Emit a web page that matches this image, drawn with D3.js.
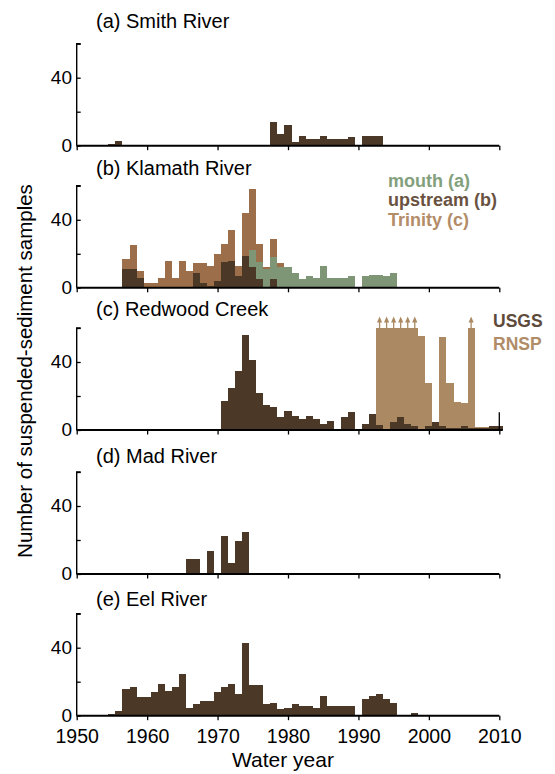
<!DOCTYPE html>
<html><head><meta charset="utf-8">
<script src="https://cdn.jsdelivr.net/npm/d3@7"></script>
<style>
html,body{margin:0;padding:0;background:#fff;}
svg text{font-family:"Liberation Sans",Arial,sans-serif;}
</style></head>
<body>
<svg id="chart" width="555" height="774"></svg>
<script>
// ---------- data ----------
const xTickYears = [1950, 1960, 1970, 1980, 1990, 2000, 2010];
const yTickValues = [0, 20, 40, 60];
const yTickLabels = ["0", "", "40", ""];
const panelTitles = ["(a) Smith River", "(b) Klamath River", "(c) Redwood Creek", "(d) Mad River", "(e) Eel River"];

// (a) Smith River
const smithYears  = [1955, 1956, 1978, 1979, 1980, 1981, 1982, 1983, 1984, 1985, 1986, 1987, 1988, 1989, 1991, 1992, 1993];
const smithCounts = [1, 3, 14, 7, 12, 2, 6, 4, 4, 6, 4, 4, 4, 5, 6, 6, 6];

// (b) Klamath River
const trinityYears  = [1957,1958,1959,1960,1961,1962,1963,1964,1965,1966,1967,1968,1969,1970,1971,1972,1973,1974,1975,1976,1977,1978,1979];
const trinityCounts = [17, 25, 10, 3, 3, 6, 16, 6, 16, 10, 14.5, 14.5, 13, 20, 26, 34, 13, 44, 58, 26, 12, 29, 14.5];
const upstreamYears  = [1957,1958,1959,1967,1968,1969,1970,1971,1972,1973,1974,1975,1976,1978,1979];
const upstreamCounts = [11, 11, 6, 9, 3, 1, 4, 15, 16, 7, 19, 12, 5, 5, 0.5];
const mouthYears  = [1975,1976,1977,1978,1979,1980,1981,1982,1983,1984,1985,1986,1987,1988,1989,1991,1992,1993,1994,1995];
const mouthCounts = [22, 15, 11, 18, 12, 12, 9, 5, 7, 6, 13, 6, 6, 6, 7, 7, 7.5, 7.5, 7, 9];

// (c) Redwood Creek
const usgsYears  = [1955,1956,1971,1972,1973,1974,1975,1976,1977,1978,1979,1980,1981,1982,1983,1984,1985,1986,1987,1988,1989,1990,
                    1991,1992,1993,1994,1995,1996,1997,1998,1999,2000,2001,2002,2003,2004,2005,2006,2007,2008,2009,2010];
const usgsCounts = [0.6, 0.6, 17, 25, 35, 56, 41, 22, 15, 13.5, 7.6, 11.2, 8.2, 6.5, 8.2, 6.5, 3.5, 5.3, 0.8, 7.6, 10.6, 0.6,
                    3.5, 9.4, 3, 0.6, 4.5, 7.6, 3.4, 2.3, 0.6, 2.4, 4.7, 2.4, 1.2, 1.2, 2.4, 1.2, 1.2, 1.2, 2.4, 2.4];
const rnspYears  = [1993,1994,1995,1996,1997,1998,1999,2000,2002,2003,2004,2005,2006,2007,2008];
// values above 60 are off-scale (drawn clipped, with an arrow)
const rnspCounts = [80, 80, 80, 80, 80, 80, 55.3, 27.8, 54.7, 27.8, 16.5, 15.9, 80, 1.5, 1.5];

// (d) Mad River
const madYears  = [1966, 1967, 1969, 1971, 1972, 1973, 1974];
const madCounts = [9, 9, 13.5, 22.4, 6.5, 19.4, 24.7];

// (e) Eel River
const eelYears  = [1955,1956,1957,1958,1959,1960,1961,1962,1963,1964,1965,1966,1967,1968,1969,1970,1971,1972,1973,1974,1975,1976,
                   1977,1978,1979,1980,1981,1982,1983,1984,1985,1986,1987,1988,1989,1991,1992,1993,1994,1995,1998];
const eelCounts = [0.8, 2.5, 15.5, 16.7, 10.8, 10.8, 13.7, 18.4, 14.3, 16.7, 24.3, 4.3, 6.7, 8.4, 8.4, 13.7, 16.7, 18.4, 12.5, 42.5, 17.8, 17.8,
                   6.7, 7.3, 3.7, 4.3, 6.7, 5.5, 5.5, 4.3, 11.4, 5.5, 5.5, 5.5, 5.5, 9.6, 11.4, 12.5, 9.6, 7.3, 1.4];

// ---------- styles ----------
const C_DARK = "#4b3826", C_TRINITY = "#9c6f4a", C_MOUTH = "#7f9676", C_RNSP = "#ab8963";

const svg = d3.select("#chart");
const x = d3.scaleLinear().domain([1950, 2010]).range([76.7, 499.3]);
const zeros = [145.7, 287.8, 430, 574, 715.7];
const panelH = 102;
const titleBase = [28, 175, 316, 462.5, 606];

function yScale(i) { return d3.scaleLinear().domain([0, 60]).range([zeros[i], zeros[i] - panelH]); }

function drawBars(g, y, years, counts, color) {
  const data = years.map((yr, k) => ({ yr, v: counts[k] }));
  g.append("g").selectAll("rect").data(data.filter(d => d.v > 0)).join("rect")
    .attr("x", d => x(d.yr - 0.5))
    .attr("width", d => x(d.yr + 0.5) - x(d.yr - 0.5))
    .attr("y", d => y(Math.min(d.v, 60)))
    .attr("height", d => y(0) - y(Math.min(d.v, 60)))
    .attr("fill", color)
    .attr("shape-rendering", "crispEdges");
  return data;
}

const panels = [
  [{ yrs: smithYears, c: smithCounts, col: C_DARK }],
  [{ yrs: trinityYears, c: trinityCounts, col: C_TRINITY }, { yrs: mouthYears, c: mouthCounts, col: C_MOUTH }, { yrs: upstreamYears, c: upstreamCounts, col: C_DARK }],
  [{ yrs: rnspYears, c: rnspCounts, col: C_RNSP, arrows: true }, { yrs: usgsYears, c: usgsCounts, col: C_DARK }],
  [{ yrs: madYears, c: madCounts, col: C_DARK }],
  [{ yrs: eelYears, c: eelCounts, col: C_DARK }]
];

panels.forEach((series, i) => {
  const y = yScale(i);
  const g = svg.append("g");
  series.forEach(s => {
    const data = drawBars(g, y, s.yrs, s.c, s.col);
    if (s.arrows) {
      const off = data.filter(d => d.v > 60);
      const ag = g.append("g").attr("fill", s.col).attr("stroke", s.col);
      off.forEach(d => {
        const cx = x(d.yr), top = y(60);
        ag.append("line").attr("x1", cx).attr("x2", cx).attr("y1", top).attr("y2", top - 6).attr("stroke-width", 1.3);
        ag.append("path").attr("stroke", "none")
          .attr("d", `M${cx - 2.6},${top - 5.5} L${cx + 2.6},${top - 5.5} L${cx},${top - 11.5} Z`);
      });
    }
  });

  // y axis
  const yAxis = d3.axisRight(y).tickValues(yTickValues).tickSize(4).tickFormat("");
  const ya = svg.append("g").attr("transform", `translate(${x(1950)},0)`).call(yAxis);
  ya.select(".domain").attr("stroke", "#000").attr("stroke-width", 1.4).attr("d", `M4,${y(60)}H0V${y(0)}`);
  ya.selectAll(".tick line").attr("stroke", "#000").attr("stroke-width", 1.3);
  svg.append("g").selectAll("text").data(yTickValues).join("text")
    .attr("x", 72).attr("y", d => y(d)).attr("dy", "0.34em")
    .attr("text-anchor", "end").attr("font-size", 19).attr("fill", "#000")
    .text((d, k) => yTickLabels[k]);

  // x axis
  const xAxis = d3.axisBottom(x).tickValues(xTickYears).tickSize(4.5).tickFormat(i === 4 ? d3.format("d") : "");
  const xa = svg.append("g").attr("transform", `translate(0,${y(0)})`).call(xAxis);
  xa.select(".domain").attr("stroke", "#000").attr("stroke-width", 1.9).attr("d", `M${x(1950)},0H${i === 2 ? x(2010.5) : x(2010)}`);
  xa.selectAll(".tick line").attr("stroke", "#000").attr("stroke-width", 1.3);
  xa.selectAll(".tick text").attr("font-size", 19.5).attr("fill", "#000").attr("dy", "1.0em")
    .attr("font-family", "Liberation Sans, Arial, sans-serif");
  if (i === 2) {
    xa.append("line").attr("x1", x(2010)).attr("x2", x(2010)).attr("y1", y(10.5) - y(0)).attr("y2", 0)
      .attr("stroke", "#000").attr("stroke-width", 1.3);
  }

  // title
  svg.append("text").attr("x", 96).attr("y", titleBase[i]).attr("font-size", 20).attr("fill", "#000").text(panelTitles[i]);
});

// legends
const legB = [["mouth (a)", "#83a07d"], ["upstream (b)", "#6a5241"], ["Trinity (c)", "#b38c68"]];
svg.append("g").selectAll("text").data(legB).join("text")
  .attr("x", 388).attr("y", (d, k) => 186.5 + k * 19.5)
  .attr("font-size", 18).attr("font-weight", "bold").attr("fill", d => d[1]).text(d => d[0]);
const legC = [["USGS", "#5f4b3b"], ["RNSP", "#b08c68"]];
svg.append("g").selectAll("text").data(legC).join("text")
  .attr("x", 493).attr("y", (d, k) => 327 + k * 23)
  .attr("font-size", 17.5).attr("font-weight", "bold").attr("fill", d => d[1]).text(d => d[0]);

// axis titles
svg.append("text").attr("x", 283).attr("y", 767).attr("text-anchor", "middle").attr("font-size", 21).attr("fill", "#000").text("Water year");
svg.append("text").attr("transform", "translate(32,371) rotate(-90)").attr("text-anchor", "middle")
  .attr("font-size", 20.5).attr("fill", "#000").text("Number of suspended-sediment samples");
</script>
</body></html>
